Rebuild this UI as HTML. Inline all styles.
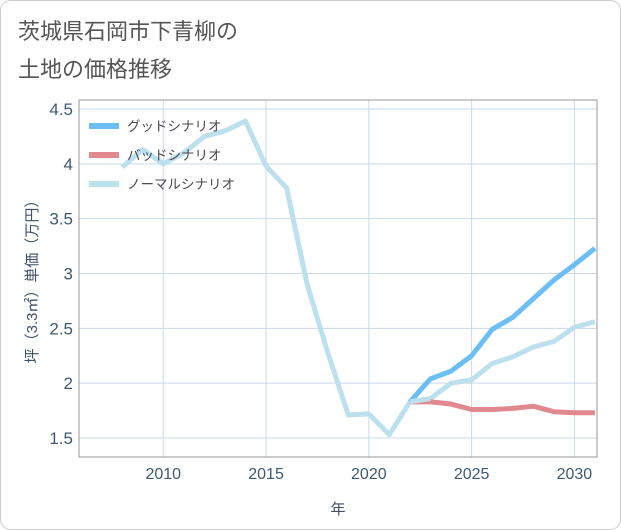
<!DOCTYPE html>
<html><head><meta charset="utf-8"><style>
body{margin:0;background:#fff;font-family:"Liberation Sans","Noto Sans CJK JP",sans-serif;}
#wrap{position:relative;width:621px;height:530px;overflow:hidden;}
</style></head><body>
<div id="wrap">
<svg id="c" width="621" height="530">
<rect x="0.5" y="0.5" width="620" height="529" rx="10" fill="#fff" stroke="#ccc"/>
<text x="18" y="39" font-size="22" fill="#555">茨城県石岡市下青柳の</text>
<text x="18" y="77" font-size="22" fill="#555">土地の価格推移</text>
<g id="grid"></g>
<g id="series"></g>
<rect x="79" y="100" width="518" height="357" fill="none" stroke="#999"/>
<text x="338" y="514" font-size="15" fill="#3d5066" text-anchor="middle">年</text>
<text transform="translate(37,278) rotate(-90)" font-size="15" fill="#3d5066" text-anchor="middle">坪（3.3㎡）単価（万円）</text>
<g id="legend"></g>
</svg>
</div>
<script>
const years=[2008,2009,2010,2011,2012,2013,2014,2015,2016,2017,2018,2019,2020,2021,2022,2023,2024,2025,2026,2027,2028,2029,2030,2031];
const normal=[3.97,4.13,4.0,4.1,4.25,4.3,4.39,3.98,3.78,2.9,2.28,1.71,1.72,1.53,1.83,1.86,2.0,2.03,2.18,2.24,2.33,2.38,2.51,2.56];
const futYears=[2022,2023,2024,2025,2026,2027,2028,2029,2030,2031];
const good=[1.83,2.04,2.11,2.25,2.49,2.60,2.77,2.94,3.08,3.23];
const bad=[1.83,1.83,1.81,1.76,1.76,1.77,1.79,1.74,1.73,1.73];
const xTicks=[2010,2015,2020,2025,2030];
const yTicks=[1.5,2,2.5,3,3.5,4,4.5];
const yLabels=["1.5","2","2.5","3","3.5","4","4.5"];
const NS="http://www.w3.org/2000/svg";
const X0=79,X1=597,Y0=100,Y1=457,xmin=2005.9,xmax=2031.1,ymin=1.327,ymax=4.582;
const sx=v=>X0+(v-xmin)/(xmax-xmin)*(X1-X0);
const sy=v=>Y1-(v-ymin)/(ymax-ymin)*(Y1-Y0);
function mk(t,a,p){const e=document.createElementNS(NS,t);for(const k in a)e.setAttribute(k,a[k]);p.appendChild(e);return e;}
const g=document.getElementById('grid');
xTicks.forEach(t=>{
 const l=mk('line',{x1:sx(t),x2:sx(t),y1:Y0,y2:Y1,stroke:'#c9d9e8'},g);
 
 
 const tx=mk('text',{x:sx(t),y:479,'font-size':16,fill:'#3d5a73','text-anchor':'middle'},g);
 tx.textContent=t;
 
 
});
yTicks.forEach((t,i)=>{
 const l=mk('line',{x1:X0,x2:X1,y1:sy(t),y2:sy(t),stroke:'#c9d9e8'},g);
 
 
 const tx=mk('text',{x:73,y:sy(t)+6,'font-size':17,fill:'#3d5a73','text-anchor':'end'},g);
 tx.textContent=yLabels[i];
 
 
});
const s=document.getElementById('series');
const clip=mk('clipPath',{id:'cp'},s);mk('rect',{x:X0,y:Y0,width:X1-X0,height:Y1-Y0},clip);
function line(xs,ys,col,name){
 const p=mk('polyline',{points:xs.map((x,i)=>sx(x)+','+sy(ys[i])).join(' '),fill:'none',stroke:col,'stroke-width':5,'stroke-linejoin':'round','clip-path':'url(#cp)'},s);
 
 
}
line(years,normal,'#bde0ee','normal-scenario-line');
line(futYears,bad,'#e08a90','bad-scenario-line');
line(futYears,good,'#6bbff5','good-scenario-line');
line(futYears.slice(0,2),normal.slice(14,16),'#bde0ee','normal-scenario-line-top');
const lg=document.getElementById('legend');
const items=[['グッドシナリオ','#6bbff5','legend-good'],['バッドシナリオ','#e08a90','legend-bad'],['ノーマルシナリオ','#bde0ee','legend-normal']];
items.forEach((it,i)=>{
 const y=126+i*29;
 const gg=mk('g',{},lg);
 
 
 mk('rect',{x:89,y:y-3,width:30,height:6,fill:it[1]},gg);
 const t=mk('text',{x:127,y:y+5,'font-size':13.5,fill:'#4a4a4a'},gg);t.textContent=it[0];
});
</script>
</body></html>
